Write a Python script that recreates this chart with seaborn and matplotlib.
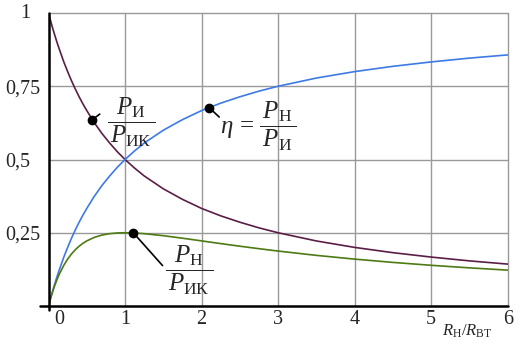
import matplotlib
matplotlib.use("Agg")
import matplotlib.pyplot as plt
import seaborn as sns
import pandas as pd

# ---- data ----
x_ratio = [0, 0.025, 0.05, 0.075, 0.1, 0.125, 0.15, 0.2, 0.25, 0.3, 0.35, 0.4, 0.45,
           0.5, 0.6, 0.7, 0.8, 0.9, 1, 1.125, 1.25, 1.5, 1.75, 2, 2.25, 2.5, 2.75,
           3, 3.5, 4, 4.5, 5, 5.5, 6]
p_i_rel = [1, 0.9756, 0.952, 0.9302, 0.909, 0.8889, 0.870, 0.833, 0.8, 0.769, 0.7407,
           0.714, 0.6897, 0.667, 0.625, 0.5882, 0.556, 0.5263, 0.5, 0.4706, 0.444,
           0.4, 0.364, 0.333, 0.3077, 0.286, 0.2667, 0.25, 0.222, 0.2, 0.182, 0.167,
           0.154, 0.143]
eta = [0, 0.0244, 0.048, 0.0698, 0.091, 0.1111, 0.130, 0.167, 0.2, 0.231, 0.2593,
       0.286, 0.3103, 0.333, 0.375, 0.4118, 0.444, 0.4737, 0.5, 0.5294, 0.556, 0.6,
       0.636, 0.667, 0.6923, 0.714, 0.7333, 0.75, 0.778, 0.8, 0.818, 0.833, 0.846,
       0.857]
p_n_rel = [0, 0.0238, 0.0454, 0.0649, 0.0826, 0.0988, 0.1134, 0.1389, 0.16, 0.1775,
           0.1920, 0.2041, 0.2140, 0.2222, 0.2344, 0.2422, 0.2469, 0.2493, 0.25,
           0.2491, 0.2469, 0.24, 0.2314, 0.2222, 0.2130, 0.2041, 0.1956, 0.1875,
           0.1728, 0.16, 0.1488, 0.1389, 0.1302, 0.1224]
x_ticks = [1, 2, 3, 4, 5, 6]
x_tick_labels = ["1", "2", "3", "4", "5", "6"]
y_ticks = [0.25, 0.5, 0.75, 1]
y_tick_labels = ["0,25", "0,5", "0,75", "1"]

sns.set_theme(style="white")
plt.rcParams["font.family"] = ["Liberation Serif", "DejaVu Serif"]
plt.rcParams["mathtext.fontset"] = "custom"
plt.rcParams["mathtext.rm"] = "Liberation Serif"
plt.rcParams["mathtext.it"] = "Liberation Serif:italic"
plt.rcParams["mathtext.bf"] = "Liberation Serif:bold"

fig = plt.figure(figsize=(5.22, 3.44), dpi=100)
ax = fig.add_axes([48.5 / 522, 38 / 344, (507.7 - 48.5) / 522, 293 / 344])
ax.set_xlim(0, 6.0)
ax.set_ylim(0, 1.0)

# grid
for xv in x_ticks:
    ax.plot([xv, xv], [0, 1], color="#999999", lw=1.0, zorder=1, clip_on=False)
for yv in y_ticks:
    ax.plot([0, 6], [yv, yv], color="#999999", lw=1.0, zorder=1, clip_on=False)

df = pd.DataFrame({"x": x_ratio, "pi": p_i_rel, "eta": eta, "pn": p_n_rel})
sns.lineplot(data=df, x="x", y="pi", ax=ax, color="#5a1e45", lw=1.2, zorder=3)
sns.lineplot(data=df, x="x", y="eta", ax=ax, color="#3d7ae6", lw=1.2, zorder=3)
sns.lineplot(data=df, x="x", y="pn", ax=ax, color="#4d7a12", lw=1.2, zorder=3)

# axes lines
ax.plot([-0.11, 6.0], [0, 0], color="black", lw=1.8, zorder=4, clip_on=False)
ax.plot([0, 0], [-0.015, 1.0], color="black", lw=1.8, zorder=4, clip_on=False)

for s in ax.spines.values():
    s.set_visible(False)
ax.set_xlabel("")
ax.set_ylabel("")
ax.set_xticks([0.14] + x_ticks)
ax.set_xticklabels(["0"] + x_tick_labels, fontsize=14.5)
ax.set_yticks(y_ticks[:-1])
ax.set_yticklabels(y_tick_labels[:-1], fontsize=14.5)
ax.tick_params(axis="y", length=0, pad=31.5)
ax.tick_params(axis="x", length=0, pad=3)
for lab in ax.get_yticklabels():
    lab.set_horizontalalignment("left")
# top label "1" sits further right in the reference
ax.text(-0.307, y_ticks[-1], y_tick_labels[-1], fontsize=14.5, ha="center",
        va="center")

# annotations
def marker(xd, yd, xe, ye):
    ax.plot([xd], [yd], "o", color="black", ms=6, zorder=6, clip_on=False)
    ax.plot([xd, xe], [yd, ye], color="black", lw=1.2, zorder=6, clip_on=False)

marker(0.573, 0.636, 0.67, 0.655)
ax.text(0.76, 0.628, r"$\dfrac{\,P_{\mathrm{И}}\,}{\,P_{\mathrm{ИК}}\,}$", fontsize=18,
        ha="left", va="center", zorder=7)

marker(2.10, 0.677, 2.23, 0.645)
ax.text(2.24, 0.612, r"$\eta\, =\, \dfrac{\,P_{\mathrm{Н}}\,}{\,P_{\mathrm{И}}\,}$",
        fontsize=18, ha="left", va="center", zorder=7)

marker(1.108, 0.25, 1.49, 0.138)
ax.text(1.52, 0.12, r"$\dfrac{\,P_{\mathrm{Н}}\,}{\,P_{\mathrm{ИК}}\,}$", fontsize=18,
        ha="left", va="center", zorder=7)

ax.text(5.47, -0.085, r"$R_{\mathrm{Н}}/R_{\mathrm{ВТ}}$", fontsize=12,
        ha="center", va="center")

fig.savefig("out.png", dpi=100)
